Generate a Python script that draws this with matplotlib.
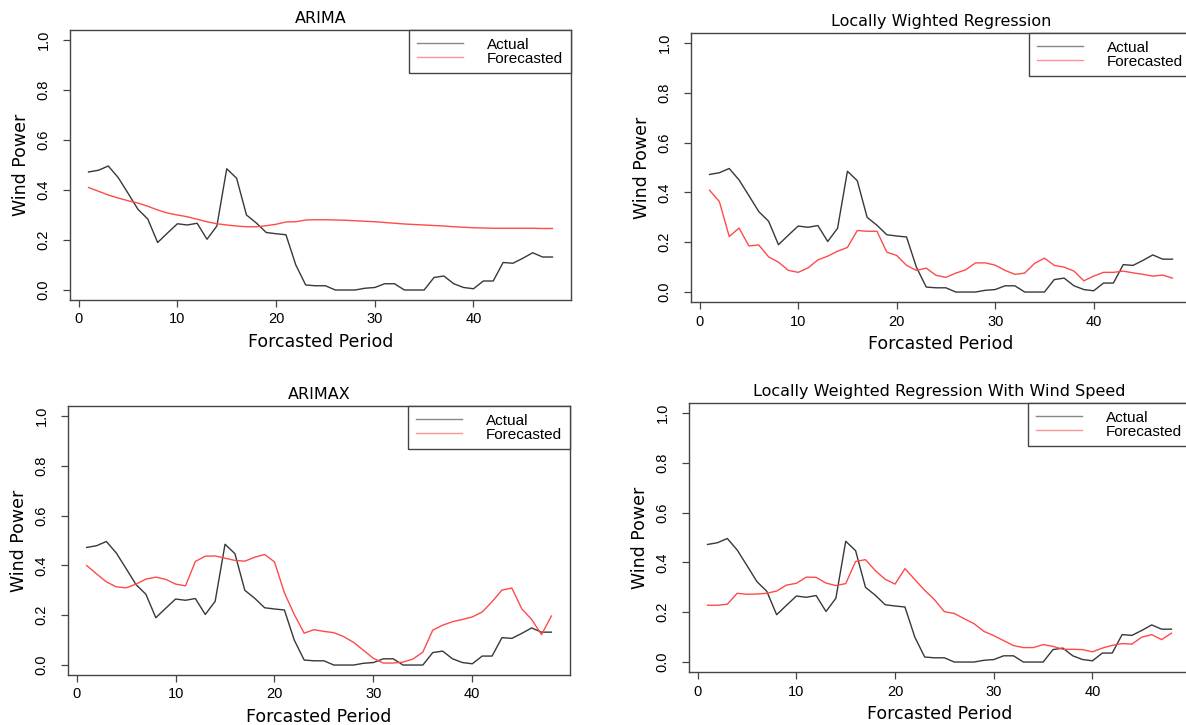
import matplotlib
matplotlib.use("Agg")
import matplotlib.pyplot as plt

# ---------------- data ----------------
period = list(range(1, 49))

actual = [0.472, 0.479, 0.496, 0.45, 0.387, 0.323, 0.284, 0.19, 0.228, 0.265,
          0.26, 0.267, 0.203, 0.256, 0.485, 0.447, 0.30, 0.268, 0.23, 0.225,
          0.221, 0.10, 0.02, 0.017, 0.017, 0.0, 0.0, 0.0, 0.007, 0.01,
          0.025, 0.025, 0.0, 0.0, 0.0, 0.05, 0.056, 0.025, 0.01, 0.005,
          0.036, 0.036, 0.11, 0.107, 0.127, 0.149, 0.132, 0.132]

fc_arima = [0.41, 0.395, 0.38, 0.368, 0.357, 0.348, 0.335, 0.32, 0.308, 0.30,
            0.293, 0.283, 0.273, 0.265, 0.26, 0.256, 0.253, 0.253, 0.257, 0.263,
            0.272, 0.273, 0.28, 0.281, 0.281, 0.28, 0.279, 0.277, 0.275, 0.273,
            0.27, 0.267, 0.264, 0.262, 0.26, 0.258, 0.256, 0.253, 0.251, 0.249,
            0.248, 0.247, 0.247, 0.247, 0.247, 0.247, 0.246, 0.246]

fc_lwr = [0.409, 0.363, 0.223, 0.257, 0.185, 0.189, 0.141, 0.12, 0.087, 0.079,
          0.097, 0.129, 0.144, 0.164, 0.179, 0.247, 0.244, 0.244, 0.16, 0.147,
          0.107, 0.087, 0.096, 0.067, 0.059, 0.076, 0.089, 0.117, 0.117, 0.108,
          0.087, 0.071, 0.076, 0.115, 0.136, 0.107, 0.10, 0.084, 0.045, 0.064,
          0.079, 0.079, 0.084, 0.077, 0.071, 0.064, 0.068, 0.056]

fc_arimax = [0.40, 0.366, 0.334, 0.314, 0.31, 0.325, 0.345, 0.353, 0.344, 0.325,
             0.318, 0.416, 0.437, 0.438, 0.429, 0.42, 0.417, 0.433, 0.444, 0.414,
             0.29, 0.203, 0.128, 0.142, 0.135, 0.13, 0.114, 0.091, 0.059, 0.027,
             0.008, 0.008, 0.012, 0.024, 0.052, 0.14, 0.16, 0.174, 0.183, 0.193,
             0.213, 0.254, 0.301, 0.309, 0.226, 0.183, 0.122, 0.197]

fc_lwr_ws = [0.228, 0.228, 0.232, 0.276, 0.272, 0.273, 0.276, 0.285, 0.309, 0.316,
             0.341, 0.34, 0.317, 0.307, 0.315, 0.404, 0.411, 0.367, 0.332, 0.313,
             0.375, 0.331, 0.288, 0.25, 0.202, 0.195, 0.174, 0.154, 0.123, 0.106,
             0.086, 0.066, 0.058, 0.058, 0.07, 0.063, 0.051, 0.051, 0.05, 0.041,
             0.056, 0.067, 0.074, 0.072, 0.10, 0.11, 0.09, 0.116]

titles = ["ARIMA", "Locally Wighted Regression", "ARIMAX",
          "Locally Weighted Regression With Wind Speed"]
forecasts = [fc_arima, fc_lwr, fc_arimax, fc_lwr_ws]
xticks = [0, 10, 20, 30, 40]
yticks = [0.0, 0.2, 0.4, 0.6, 0.8, 1.0]
ytick_labels = ["0.0", "0.2", "0.4", "0.6", "0.8", "1.0"]
series_labels = ["Actual", "Forecasted"]
xlabel = "Forcasted Period"
ylabel = "Wind Power"

# ---------------- layout ----------------
W, H = 1186, 725
fig = plt.figure(figsize=(W / 100, H / 100), dpi=100)

# (left, top, right, bottom) in pixels
boxes = [(70, 30, 571, 300), (691, 33, 1191, 302),
         (68, 406, 570, 675), (689, 403, 1190, 672)]

black = "#383838"
red = "#ff4a4a"
spine_col = "#444444"
tick_font = "Liberation Sans"

for (l, t, r, b), title, fc in zip(boxes, titles, forecasts):
    ax = fig.add_axes([l / W, 1 - b / H, (r - l) / W, (b - t) / H])
    ax.plot(period, actual, color=black, lw=1.0, label=series_labels[0])
    ax.plot(period, fc, color=red, lw=1.0, label=series_labels[1])
    ax.set_xlim(1 - 0.04 * 47, 48 + 0.04 * 47)
    ax.set_ylim(-0.04, 1.04)
    ax.set_xticks(xticks)
    ax.set_xticklabels([str(v) for v in xticks], fontfamily=tick_font, fontsize=10.5)
    ax.set_yticks(yticks)
    ax.set_yticklabels(ytick_labels, fontfamily=tick_font, fontsize=10.5,
                       rotation=90, va="center")
    ax.tick_params(axis="both", direction="out", length=5, width=0.9,
                   color=spine_col, pad=4)
    ax.tick_params(axis="y", pad=9)
    for sp in ax.spines.values():
        sp.set_color(spine_col)
        sp.set_linewidth(1.0)
    ax.set_title(title, fontsize=11.5, fontfamily="DejaVu Sans", pad=5)
    ax.set_xlabel(xlabel, fontsize=12.5, fontfamily="DejaVu Sans", labelpad=5)
    ax.set_ylabel(ylabel, fontsize=12.5, fontfamily="DejaVu Sans", labelpad=5)
    leg = ax.legend(loc="upper right", borderaxespad=0, fancybox=False,
                    framealpha=1, edgecolor=spine_col,
                    prop={"family": tick_font, "size": 11},
                    handlelength=3.0, handletextpad=1.6, labelspacing=0.0,
                    borderpad=0.5)
    leg.get_frame().set_linewidth(1.0)
    for line in leg.get_lines():
        line.set_alpha(0.6)

fig.savefig("out.png", dpi=100)
